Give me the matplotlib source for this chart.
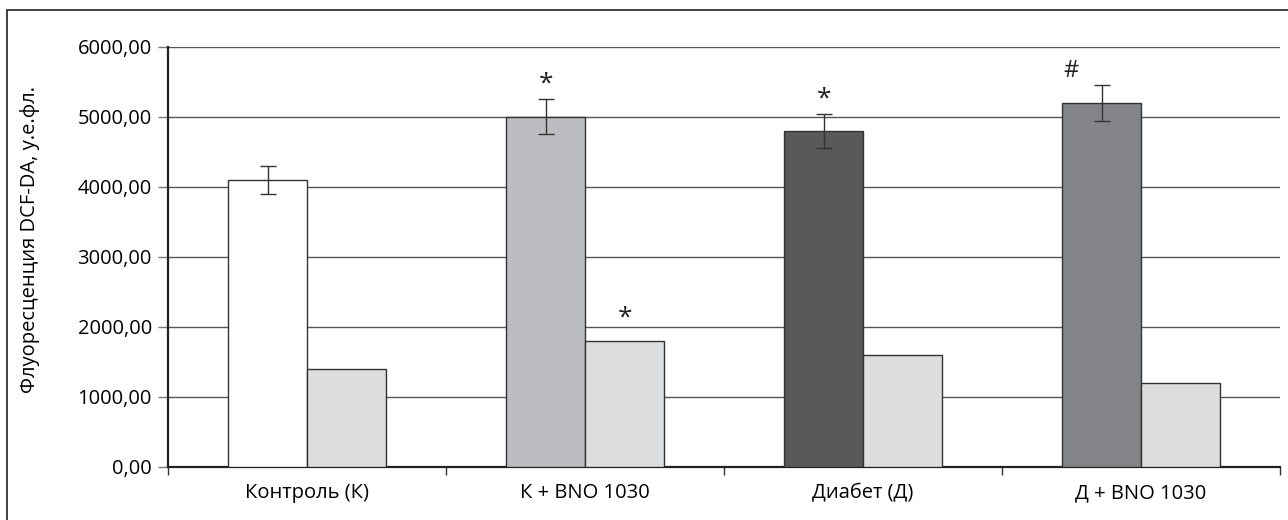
import numpy as np
import matplotlib.pyplot as plt
from matplotlib.patches import Rectangle

plt.rcParams['font.family'] = ['Open Sans', 'DejaVu Sans']

groups = ['Контроль (К)', 'К + BNO 1030', 'Диабет (Д)', 'Д + BNO 1030']
main_vals = [4100, 5000, 4800, 5200]
main_err = [200, 250, 240, 260]
second_vals = [1400, 1800, 1600, 1200]
main_colors = ['#ffffff', '#bcbdc0', '#58595b', '#838487']
second_color = '#dcdddf'
main_marks = ['', '*', '*', '#']
second_marks = ['', '*', '', '']

fig = plt.figure(figsize=(12.88, 5.2), dpi=100)
# outer frame, only top and left edges fall inside the picture
fig.patches.append(Rectangle((7 / 1288, -0.1), 1.2, 1.1 - 10 / 520,
                             transform=fig.transFigure, fill=False,
                             edgecolor='#333333', linewidth=1.3))
ax = fig.add_axes([0.1308, 0.1025, 0.863, 0.8075])

x = np.arange(len(groups))
w = 0.284
ax.bar(x - w / 2, main_vals, w, color=main_colors, edgecolor='#333333',
       linewidth=1.0, zorder=3)
ax.errorbar(x - w / 2, main_vals, yerr=main_err, fmt='none', ecolor='#333333',
            elinewidth=1.0, capsize=6, capthick=1.0, zorder=4)
ax.bar(x + w / 2, second_vals, w, color=second_color, edgecolor='#333333',
       linewidth=1.0, zorder=3)

for i in range(len(groups)):
    if main_marks[i] == '*':
        ax.text(x[i] - w / 2, main_vals[i] + main_err[i] + 40, '*', ha='center',
                va='bottom', fontsize=19, color='#222222')
    elif main_marks[i] == '#':
        ax.text(x[i] - w / 2 - 0.11, main_vals[i] + main_err[i] + 20, '#', ha='center',
                va='bottom', fontsize=17, color='#222222')
    if second_marks[i]:
        ax.text(x[i] + w / 2, second_vals[i] + 150, second_marks[i], ha='center',
                va='bottom', fontsize=19, color='#222222')

ax.set_xlim(-0.5, 3.5)
ax.set_ylim(0, 6000)
ax.set_yticks(np.arange(0, 6001, 1000))
ax.set_yticklabels([f'{v},00' for v in range(0, 6001, 1000)])
ax.set_xticks(x)
ax.set_xticklabels(groups)
ax.set_xticks(np.arange(-0.5, 4, 1), minor=True)
ax.tick_params(axis='x', which='major', length=0, pad=12, labelsize=14.5)
ax.tick_params(axis='x', which='minor', length=6, color='#333333', width=1.0)
ax.tick_params(axis='y', length=7, color='#777777', width=1.0, labelsize=14.5, pad=5)

ax.yaxis.grid(True, color='#555555', linewidth=1.0, zorder=0)
ax.set_axisbelow(True)
for s in ['top', 'right']:
    ax.spines[s].set_visible(False)
ax.spines['left'].set_linewidth(1.6)
ax.spines['bottom'].set_linewidth(1.6)
ax.spines['left'].set_color('#222222')
ax.spines['bottom'].set_color('#222222')

ax.set_ylabel('Флуоресценция DCF-DA, у.е.фл.', fontsize=14.5)
ax.yaxis.set_label_coords(-0.1156, 0.54)

fig.savefig('out.png', dpi=100)
